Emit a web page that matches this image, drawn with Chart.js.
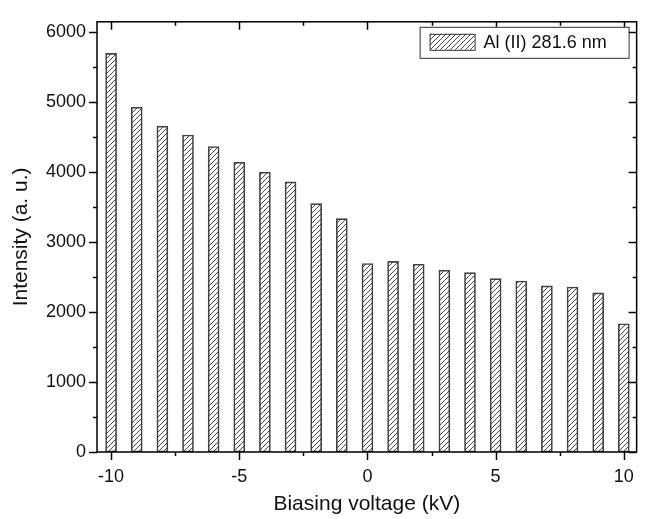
<!DOCTYPE html>
<html>
<head>
<meta charset="utf-8">
<script src="https://cdn.jsdelivr.net/npm/chart.js@4.4.1/dist/chart.umd.min.js"></script>
<style>
    body { margin: 0; background: #fff; }
</style>
</head>
<body>
<canvas id="chart" width="648" height="519"></canvas>
<script>
// biasing voltage (kV) and line intensity
const voltage = [-10, -9, -8, -7, -6, -5, -4, -3, -2, -1, 0, 1, 2, 3, 4, 5, 6, 7, 8, 9, 10];
const intensity = [5690, 4920, 4650, 4525, 4360, 4135, 3995, 3855, 3545, 3330,
    2690, 2720, 2680, 2595, 2560, 2475, 2440, 2370, 2355, 2270, 1830];

const seriesLabel = "Al (II) 281.6 nm";

const xTicks = [-10, -5, 0, 5, 10];
const xMinorTicks = [-7.5, -2.5, 2.5, 7.5];
const yTicks = [0, 1000, 2000, 3000, 4000, 5000, 6000];
const yMinorTicks = [500, 1500, 2500, 3500, 4500, 5500];

Chart.defaults.font.family = "'Liberation Sans', Arial, sans-serif";
Chart.defaults.font.size = 18;
Chart.defaults.color = "#111";

// diagonal hatch fill
function makeHatch() {
    const c = document.createElement("canvas");
    c.width = 5;
    c.height = 5;
    const g = c.getContext("2d");
    g.strokeStyle = "#333";
    g.lineWidth = 0.9;
    g.beginPath();
    g.moveTo(0, 5); g.lineTo(5, 0);
    g.moveTo(-1, 1); g.lineTo(1, -1);
    g.moveTo(4, 6); g.lineTo(6, 4);
    g.stroke();
    return g.createPattern(c, "repeat");
}

const hatch = makeHatch();

// box + ticks on all four sides
const frame = {
    id: "frame",
    afterDraw(chart) {
        const { ctx, chartArea: a, scales: { x, y } } = chart;
        ctx.save();
        ctx.strokeStyle = "#000";
        ctx.lineWidth = 1.5;
        ctx.strokeRect(a.left, a.top, a.right - a.left, a.bottom - a.top);

        const line = (x1, y1, x2, y2) => {
            ctx.beginPath();
            ctx.moveTo(x1, y1);
            ctx.lineTo(x2, y2);
            ctx.stroke();
        };

        xTicks.concat(xMinorTicks).forEach(v => {
            const len = xTicks.includes(v) ? 8 : 4;
            const px = Math.round(x.getPixelForValue(v)) + 0.5;
            line(px, a.bottom, px, a.bottom + len);
            line(px, a.top, px, a.top + len);
        });

        yTicks.concat(yMinorTicks).forEach(v => {
            const len = yTicks.includes(v) ? 8 : 4;
            const py = Math.round(y.getPixelForValue(v)) + 0.5;
            line(a.left - len, py, a.left, py);
            line(a.right - len, py, a.right, py);
        });
        ctx.restore();
    }
};

// boxed legend in the upper right corner
const boxLegend = {
    id: "boxLegend",
    afterDraw(chart) {
        const { ctx, chartArea: a } = chart;
        const w = 209, h = 31;
        const left = a.right - 8 - w;
        const top = a.top + 5;

        ctx.save();
        ctx.fillStyle = "#fff";
        ctx.fillRect(left, top, w, h);
        ctx.strokeStyle = "#333";
        ctx.lineWidth = 1;
        ctx.strokeRect(left + 0.5, top + 0.5, w, h);

        ctx.fillStyle = hatch;
        ctx.fillRect(left + 10, top + 7, 45, 16);
        ctx.strokeRect(left + 10.5, top + 7.5, 45, 16);

        ctx.fillStyle = "#111";
        ctx.font = "18px 'Liberation Sans', Arial, sans-serif";
        ctx.textBaseline = "middle";
        ctx.fillText(seriesLabel, left + 64, top + h / 2 + 1);
        ctx.restore();
    }
};

new Chart(document.getElementById("chart"), {
    type: "bar",
    data: {
        datasets: [{
            label: seriesLabel,
            data: voltage.map((v, i) => ({ x: v, y: intensity[i] })),
            backgroundColor: hatch,
            borderColor: "#444",
            borderWidth: 1,
            borderSkipped: false,
            barThickness: 11
        }]
    },
    options: {
        responsive: false,
        animation: false,
        layout: { padding: { top: 10, right: 8, left: 0, bottom: 0 } },
        plugins: {
            legend: { display: false },
            tooltip: { enabled: false }
        },
        scales: {
            x: {
                type: "linear",
                min: -10.55,
                max: 10.5,
                offset: false,
                grid: { display: false, drawTicks: false },
                border: { display: false },
                afterBuildTicks: s => { s.ticks = xTicks.map(v => ({ value: v })); },
                afterFit: s => { s.height = 67; },
                ticks: { padding: 14, maxRotation: 0, autoSkip: false, callback: v => String(v) },
                title: {
                    display: true,
                    text: "Biasing voltage (kV)",
                    font: { size: 21 },
                    padding: { top: 0, bottom: 2 }
                }
            },
            y: {
                min: 0,
                max: 6140,
                grid: { display: false, drawTicks: false },
                border: { display: false },
                afterBuildTicks: s => { s.ticks = yTicks.map(v => ({ value: v })); },
                afterFit: s => { s.width = 97; },
                ticks: { padding: 11, callback: v => String(v) },
                title: {
                    display: true,
                    text: "Intensity (a. u.)",
                    font: { size: 21 },
                    padding: { top: 9, bottom: 0 }
                }
            }
        }
    },
    plugins: [frame, boxLegend]
});
</script>
</body>
</html>
